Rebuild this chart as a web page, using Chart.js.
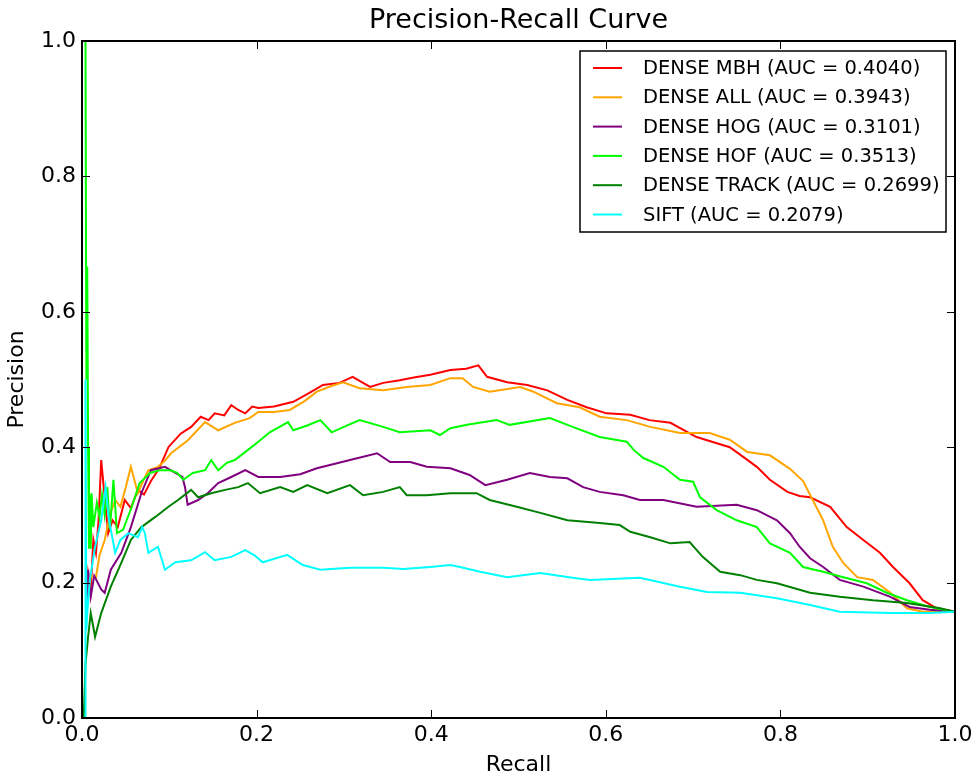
<!DOCTYPE html>
<html>
<head>
<meta charset="utf-8">
<script src="https://cdn.jsdelivr.net/npm/chart.js@4.4.1/dist/chart.umd.min.js"></script>
<style>
  html, body { margin: 0; padding: 0; background: #fff; }
  #wrap { width: 979px; height: 778px; }
</style>
</head>
<body>
<div id="wrap"><canvas id="prChart"></canvas></div>
<script>
// [recall, precision] points
const denseMbh = [[0.005,0.17],[0.007,0.214],[0.010,0.19],[0.013,0.263],[0.016,0.244],[0.019,0.292],[0.022,0.381],[0.026,0.326],[0.030,0.273],[0.035,0.292],[0.041,0.282],[0.049,0.322],[0.056,0.31],[0.064,0.337],[0.071,0.33],[0.079,0.35],[0.089,0.37],[0.099,0.40],[0.113,0.42],[0.125,0.43],[0.136,0.445],[0.145,0.44],[0.152,0.45],[0.163,0.447],[0.171,0.462],[0.179,0.455],[0.187,0.45],[0.195,0.46],[0.202,0.458],[0.220,0.46],[0.242,0.467],[0.260,0.48],[0.276,0.492],[0.295,0.495],[0.31,0.504],[0.33,0.489],[0.345,0.495],[0.364,0.499],[0.380,0.503],[0.399,0.507],[0.422,0.514],[0.440,0.516],[0.454,0.521],[0.464,0.504],[0.487,0.496],[0.51,0.492],[0.533,0.484],[0.556,0.47],[0.578,0.459],[0.601,0.45],[0.628,0.448],[0.650,0.44],[0.674,0.436],[0.704,0.415],[0.742,0.40],[0.757,0.386],[0.773,0.371],[0.788,0.352],[0.808,0.334],[0.822,0.328],[0.834,0.326],[0.857,0.312],[0.876,0.282],[0.895,0.263],[0.914,0.244],[0.929,0.223],[0.948,0.199],[0.963,0.174],[0.979,0.162],[1.0,0.157]];
const denseAll = [[0.006,0.17],[0.010,0.21],[0.016,0.208],[0.020,0.24],[0.026,0.263],[0.032,0.30],[0.038,0.322],[0.044,0.312],[0.050,0.34],[0.056,0.371],[0.064,0.332],[0.070,0.35],[0.076,0.366],[0.087,0.371],[0.095,0.38],[0.102,0.391],[0.121,0.41],[0.141,0.437],[0.156,0.425],[0.175,0.436],[0.192,0.443],[0.202,0.452],[0.220,0.452],[0.238,0.455],[0.255,0.468],[0.269,0.482],[0.285,0.49],[0.299,0.496],[0.318,0.487],[0.345,0.484],[0.372,0.489],[0.399,0.492],[0.422,0.502],[0.436,0.502],[0.448,0.489],[0.467,0.482],[0.502,0.489],[0.517,0.482],[0.544,0.465],[0.57,0.459],[0.593,0.445],[0.624,0.44],[0.651,0.43],[0.685,0.421],[0.719,0.421],[0.742,0.411],[0.762,0.393],[0.788,0.388],[0.811,0.368],[0.826,0.35],[0.837,0.322],[0.849,0.292],[0.86,0.253],[0.872,0.229],[0.888,0.208],[0.906,0.204],[0.926,0.185],[0.945,0.162],[0.963,0.157],[1.0,0.157]];
const denseHog = [[0.005,0.16],[0.007,0.219],[0.010,0.179],[0.014,0.21],[0.018,0.20],[0.022,0.19],[0.026,0.185],[0.033,0.219],[0.045,0.244],[0.056,0.282],[0.068,0.332],[0.079,0.366],[0.095,0.371],[0.107,0.362],[0.115,0.356],[0.118,0.341],[0.121,0.315],[0.133,0.322],[0.144,0.332],[0.156,0.347],[0.171,0.356],[0.187,0.366],[0.202,0.356],[0.227,0.356],[0.25,0.36],[0.269,0.369],[0.307,0.381],[0.338,0.391],[0.353,0.378],[0.376,0.378],[0.395,0.371],[0.422,0.369],[0.444,0.359],[0.462,0.344],[0.487,0.352],[0.513,0.362],[0.536,0.356],[0.556,0.354],[0.574,0.341],[0.593,0.334],[0.62,0.329],[0.639,0.322],[0.666,0.322],[0.704,0.312],[0.75,0.315],[0.773,0.307],[0.796,0.292],[0.811,0.273],[0.822,0.253],[0.834,0.236],[0.849,0.223],[0.868,0.204],[0.895,0.194],[0.926,0.179],[0.948,0.164],[0.971,0.16],[1.0,0.157]];
const denseHof = [[0.004,1.0],[0.005,0.5],[0.006,0.667],[0.007,0.4],[0.008,0.25],[0.009,0.33],[0.010,0.25],[0.011,0.332],[0.013,0.282],[0.017,0.318],[0.020,0.297],[0.023,0.33],[0.026,0.30],[0.029,0.341],[0.032,0.278],[0.036,0.352],[0.040,0.273],[0.047,0.278],[0.057,0.312],[0.066,0.347],[0.078,0.362],[0.089,0.366],[0.101,0.366],[0.109,0.362],[0.116,0.352],[0.127,0.362],[0.141,0.366],[0.148,0.381],[0.156,0.366],[0.166,0.377],[0.175,0.381],[0.189,0.395],[0.202,0.408],[0.215,0.422],[0.236,0.437],[0.242,0.425],[0.258,0.432],[0.273,0.44],[0.286,0.422],[0.30,0.43],[0.318,0.44],[0.345,0.43],[0.364,0.422],[0.399,0.425],[0.41,0.418],[0.422,0.428],[0.441,0.433],[0.475,0.44],[0.49,0.433],[0.536,0.443],[0.562,0.43],[0.593,0.415],[0.624,0.408],[0.632,0.396],[0.643,0.384],[0.666,0.371],[0.685,0.352],[0.70,0.349],[0.708,0.326],[0.727,0.307],[0.75,0.292],[0.773,0.282],[0.788,0.258],[0.811,0.244],[0.826,0.223],[0.849,0.216],[0.872,0.208],[0.899,0.199],[0.922,0.185],[0.945,0.174],[0.971,0.164],[1.0,0.157]];
const denseTrack = [[0.002,0.0],[0.004,0.08],[0.007,0.12],[0.010,0.155],[0.015,0.12],[0.022,0.155],[0.033,0.194],[0.045,0.229],[0.056,0.263],[0.068,0.282],[0.084,0.297],[0.099,0.312],[0.11,0.322],[0.125,0.337],[0.133,0.326],[0.148,0.332],[0.164,0.337],[0.179,0.341],[0.19,0.347],[0.204,0.332],[0.227,0.341],[0.242,0.334],[0.258,0.344],[0.281,0.332],[0.307,0.344],[0.322,0.329],[0.345,0.334],[0.364,0.341],[0.372,0.329],[0.395,0.329],[0.422,0.332],[0.452,0.332],[0.467,0.322],[0.498,0.312],[0.525,0.303],[0.556,0.292],[0.593,0.288],[0.616,0.285],[0.628,0.275],[0.651,0.267],[0.674,0.258],[0.696,0.26],[0.711,0.238],[0.731,0.216],[0.754,0.211],[0.773,0.204],[0.796,0.199],[0.834,0.185],[0.868,0.179],[0.906,0.174],[0.945,0.17],[0.983,0.162],[1.0,0.157]];
const sift = [[0.004,0.0],[0.004,0.5],[0.005,0.13],[0.006,0.155],[0.009,0.204],[0.015,0.253],[0.022,0.292],[0.027,0.341],[0.031,0.292],[0.038,0.244],[0.044,0.263],[0.053,0.273],[0.064,0.267],[0.069,0.282],[0.072,0.273],[0.076,0.244],[0.087,0.253],[0.095,0.219],[0.107,0.23],[0.125,0.233],[0.141,0.245],[0.152,0.233],[0.171,0.238],[0.187,0.248],[0.198,0.24],[0.207,0.23],[0.235,0.241],[0.253,0.226],[0.273,0.219],[0.307,0.222],[0.345,0.222],[0.368,0.22],[0.399,0.223],[0.422,0.226],[0.433,0.223],[0.456,0.216],[0.487,0.208],[0.525,0.214],[0.562,0.207],[0.582,0.204],[0.639,0.207],[0.685,0.194],[0.716,0.186],[0.754,0.185],[0.796,0.177],[0.834,0.167],[0.868,0.157],[0.926,0.155],[0.97,0.155],[1.0,0.157]];

const seriesLabels = ["DENSE MBH (AUC = 0.4040)", "DENSE ALL (AUC = 0.3943)", "DENSE HOG (AUC = 0.3101)", "DENSE HOF (AUC = 0.3513)", "DENSE TRACK (AUC = 0.2699)", "SIFT (AUC = 0.2079)"];
const seriesData = [denseMbh, denseAll, denseHog, denseHof, denseTrack, sift];
const seriesColors = ["#ff0000", "#ffa500", "#800080", "#00ff00", "#008000", "#00ffff"];
const tickValues = [0, 0.2, 0.4, 0.6, 0.8, 1.0];
const chartTitle = "Precision-Recall Curve";

const FONT = "DejaVu Sans";

// frame + inward ticks on all four sides, plus the title over the plot area
const framePlugin = {
  id: "frame",
  afterDatasetsDraw(chart) {
    const { ctx, chartArea: a, scales } = chart;
    ctx.save();
    ctx.strokeStyle = "#000";
    ctx.lineWidth = 1;
    const len = 8;
    tickValues.forEach(v => {
      const x = Math.round(scales.x.getPixelForValue(v)) + 0.5;
      const y = Math.round(scales.y.getPixelForValue(v)) + 0.5;
      ctx.beginPath();
      ctx.moveTo(x, a.bottom); ctx.lineTo(x, a.bottom - len);
      ctx.moveTo(x, a.top); ctx.lineTo(x, a.top + len);
      ctx.moveTo(a.left, y); ctx.lineTo(a.left + len, y);
      ctx.moveTo(a.right, y); ctx.lineTo(a.right - len, y);
      ctx.stroke();
    });
    ctx.lineWidth = 2;
    ctx.strokeRect(a.left, a.top, a.right - a.left, a.bottom - a.top);

    ctx.fillStyle = "#000";
    ctx.font = "27px '" + FONT + "'";
    ctx.textAlign = "center";
    ctx.textBaseline = "middle";
    ctx.fillText(chartTitle, (a.left + a.right) / 2, 21);
    ctx.restore();
  }
};

// legend box in the upper right corner of the plot
const legendPlugin = {
  id: "boxLegend",
  afterDraw(chart) {
    const { ctx } = chart;
    const box = { x: 580, y: 51, w: 366, h: 181 };
    ctx.save();
    ctx.fillStyle = "#fff";
    ctx.fillRect(box.x, box.y, box.w, box.h);
    ctx.strokeStyle = "#000";
    ctx.lineWidth = 1.5;
    ctx.strokeRect(box.x, box.y, box.w, box.h);
    ctx.font = "19.5px '" + FONT + "'";
    ctx.textBaseline = "middle";
    ctx.fillStyle = "#000";
    chart.data.datasets.forEach((ds, i) => {
      const y = 68 + i * 29.3;
      ctx.strokeStyle = ds.borderColor;
      ctx.lineWidth = 2;
      ctx.beginPath();
      ctx.moveTo(593, y); ctx.lineTo(622, y);
      ctx.stroke();
      ctx.fillText(ds.label, 643, y + 1);
    });
    ctx.restore();
  }
};

new Chart(document.getElementById("prChart"), {
  type: "line",
  data: {
    datasets: seriesData.map((pts, i) => ({
      label: seriesLabels[i],
      data: pts.map(p => ({ x: p[0], y: p[1] })),
      borderColor: seriesColors[i],
      backgroundColor: seriesColors[i],
      borderWidth: 2,
      pointRadius: 0,
      tension: 0,
      fill: false,
      order: seriesData.length - i
    }))
  },
  options: {
    responsive: true,
    maintainAspectRatio: false,
    animation: false,
    layout: { padding: { top: 41, right: 24, left: 0, bottom: 0 } },
    plugins: {
      legend: { display: false },
      tooltip: { enabled: false },
      title: { display: false }
    },
    scales: {
      x: {
        type: "linear",
        min: 0,
        max: 1,
        afterFit: s => { s.height = 60; },
        grid: { display: false, drawTicks: false },
        border: { display: false },
        ticks: {
          stepSize: 0.2,
          color: "#000",
          padding: 4,
          font: { family: FONT, size: 22 },
          callback: v => v.toFixed(1)
        },
        title: {
          display: true,
          text: "Recall",
          color: "#000",
          font: { family: FONT, size: 22 },
          padding: { top: 0, bottom: 0 }
        }
      },
      y: {
        type: "linear",
        min: 0,
        max: 1,
        afterFit: s => { s.width = 82; },
        grid: { display: false, drawTicks: false },
        border: { display: false },
        ticks: {
          stepSize: 0.2,
          color: "#000",
          padding: 6,
          font: { family: FONT, size: 22 },
          callback: v => v.toFixed(1)
        },
        title: {
          display: true,
          text: "Precision",
          color: "#000",
          font: { family: FONT, size: 22 },
          padding: { top: 4, bottom: 0 }
        }
      }
    }
  },
  plugins: [framePlugin, legendPlugin]
});
</script>
</body>
</html>
